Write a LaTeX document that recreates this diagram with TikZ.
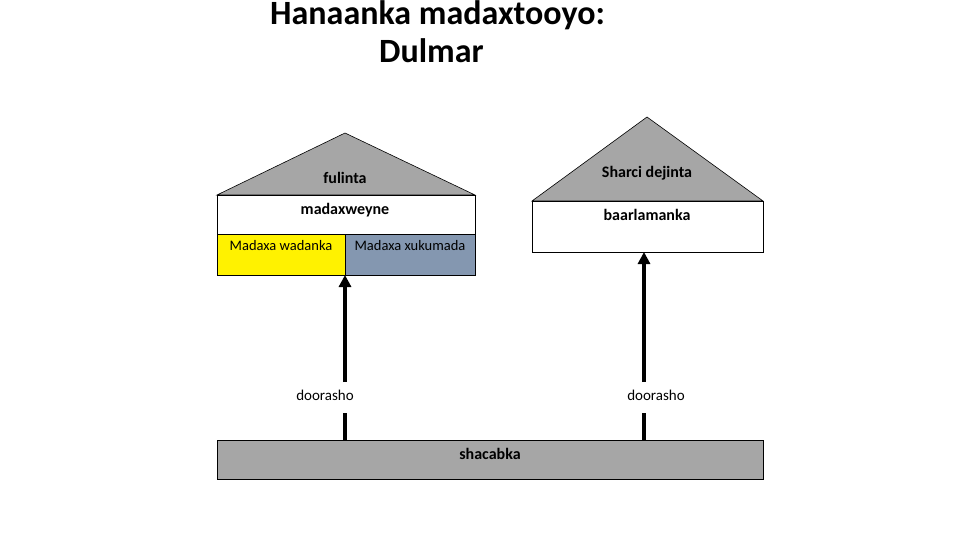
\documentclass[tikz,border=0pt]{standalone}
\usepackage{fontspec}
\setmainfont{Carlito}
\usetikzlibrary{arrows.meta}
\definecolor{roofgray}{HTML}{A6A6A6}
\definecolor{slate}{HTML}{8497B0}
\begin{document}
\begin{tikzpicture}[x=1pt,y=-1pt,
  roof/.style={fill=roofgray,draw=black,line width=0.6pt},
  box/.style={draw=black,line width=0.6pt},
  lbl/.style={font=\fontsize{16}{18}\selectfont\bfseries,inner sep=0pt},
  slbl/.style={font=\fontsize{14.5}{17}\selectfont,inner sep=0pt},
  vote/.style={line width=4pt},
  votearrow/.style={line width=4pt,-{Triangle[length=12pt,width=12pt]}}]
\useasboundingbox (0,0) rectangle (960,540);
% title
\node[font=\fontsize{34}{38}\selectfont\bfseries,align=left,inner sep=0pt,anchor=north west] (title) at (270,0) {Hanaanka madaxtooyo:\\\hspace*{109pt}Dulmar};
% left house
\draw[roof] (217,195) -- (345,133) -- (475,195) -- cycle;
\node[lbl] (fulinta) at (345,178) {fulinta};
\draw[box,fill=white] (217,195) rectangle (475,234);
\node[lbl] (madaxweyne) at (345,210) {madaxweyne};
\draw[box,fill=yellow] (217,234) rectangle (345,275);
\node[slbl] (wadanka) at (281,246) {Madaxa wadanka};
\draw[box,fill=slate] (345,234) rectangle (475,275);
\node[slbl] (xukumada) at (410,246) {Madaxa xukumada};
\coordinate (ltop) at (345,275);
% right house
\draw[roof] (532,201) -- (647,117) -- (763,201) -- cycle;
\node[lbl] (sharci) at (647,173) {Sharci dejinta};
\draw[box,fill=white] (532,201) rectangle (763,252);
\node[lbl] (baarlamanka) at (647,215) {baarlamanka};
\coordinate (rtop) at (644,252);
% people
\draw[box,fill=roofgray] (217,440) rectangle (763,479);
\node[lbl] (shacabka) at (490,454) {shacabka};
% votes
\node[font=\fontsize{15}{17}\selectfont,inner sep=0pt] (d1) at (325,395) {doorasho};
\node[font=\fontsize{15}{17}\selectfont,inner sep=0pt] (d2) at (656,395) {doorasho};
\coordinate (lb) at (345,440);
\coordinate (lm1) at (345,413);
\coordinate (lm2) at (345,382);
\coordinate (rb) at (644,440);
\coordinate (rm1) at (644,413);
\coordinate (rm2) at (644,382);
\draw[vote] (lb) -- (lm1);
\draw[votearrow] (lm2) -- (ltop);
\draw[vote] (rb) -- (rm1);
\draw[votearrow] (rm2) -- (rtop);
\end{tikzpicture}
\end{document}
